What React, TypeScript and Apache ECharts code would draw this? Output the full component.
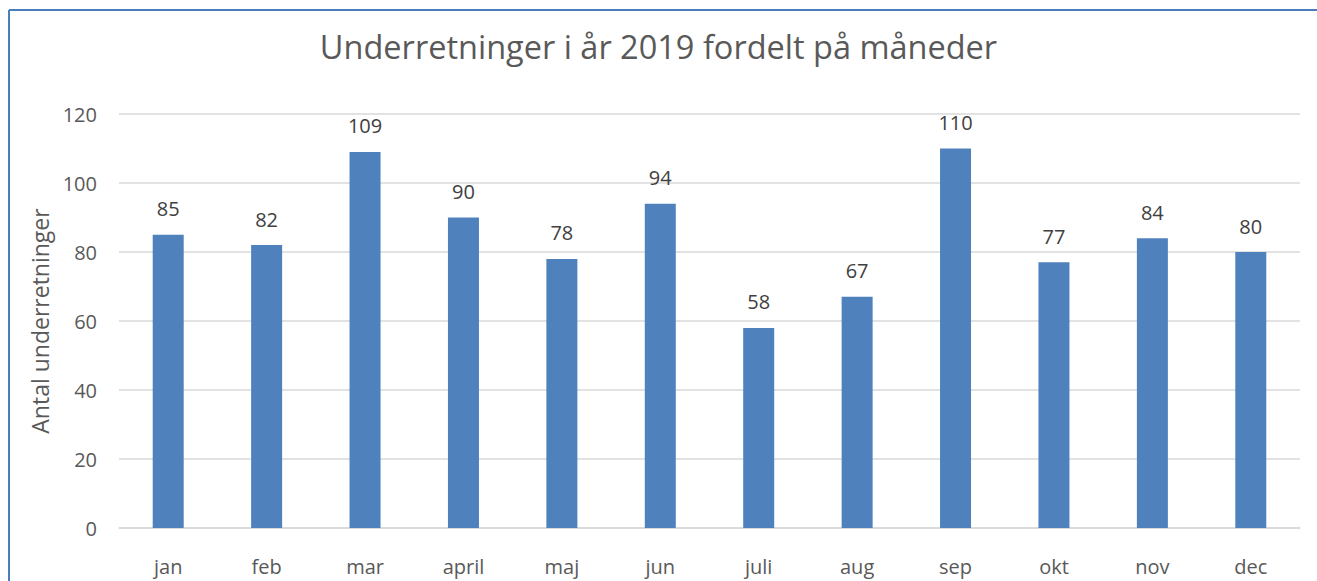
import React, { useEffect, useRef } from "react";
import * as echarts from "echarts";

const months = ["jan", "feb", "mar", "april", "maj", "jun", "juli", "aug", "sep", "okt", "nov", "dec"];
const counts = [85, 82, 109, 90, 78, 94, 58, 67, 110, 77, 84, 80];
const titleText = "Underretninger i år 2019 fordelt på måneder";
const yAxisName = "Antal underretninger";

const FONT = "'Open Sans', 'Noto Sans', sans-serif";

export default function App() {
  const ref = useRef<HTMLDivElement>(null);
  useEffect(() => {
    if (!ref.current) return;
    const chart = echarts.init(ref.current, undefined, { renderer: "svg" });
    chart.setOption({
      animation: false,
      backgroundColor: "#ffffff",
      title: {
        text: titleText,
        left: "center",
        top: 25,
        textStyle: { fontFamily: FONT, fontSize: 32.5, fontWeight: "normal", color: "#595959" },
      },
      grid: { left: 119, right: 17, top: 114, bottom: 53, containLabel: false },
      xAxis: {
        type: "category",
        data: months,
        axisLine: { lineStyle: { color: "#d9d9d9", width: 1.5 } },
        axisTick: { show: false },
        axisLabel: { fontFamily: FONT, fontSize: 20, color: "#595959", margin: 28 },
      },
      yAxis: {
        type: "value",
        min: 0,
        max: 120,
        interval: 20,
        name: yAxisName,
        nameLocation: "middle",
        nameGap: 68,
        nameTextStyle: { fontFamily: FONT, fontSize: 23, color: "#595959" },
        axisLine: { show: false },
        axisTick: { show: false },
        axisLabel: { fontFamily: FONT, fontSize: 20, color: "#595959", margin: 22 },
        splitLine: { lineStyle: { color: "#d9d9d9", width: 1.5 } },
      },
      graphic: [
        { type: "line", shape: { x1: 9, y1: 10, x2: 1317, y2: 10 }, style: { stroke: "#4a7ebb", lineWidth: 2 } },
        { type: "line", shape: { x1: 9, y1: 10, x2: 9, y2: 581 }, style: { stroke: "#4a7ebb", lineWidth: 2 } },
      ],
      series: [
        {
          type: "bar",
          data: counts,
          barWidth: "31.5%",
          itemStyle: { color: "#4f81bd" },
          label: {
            show: true,
            position: "top",
            distance: 16,
            fontFamily: FONT,
            fontSize: 20,
            color: "#404040",
          },
        },
      ],
    });
    return () => chart.dispose();
  }, []);
  return (
    <div
      ref={ref}
      style={{ position: "fixed", left: 0, top: 0, width: 1317, height: 581, background: "#fff" }}
    />
  );
}
